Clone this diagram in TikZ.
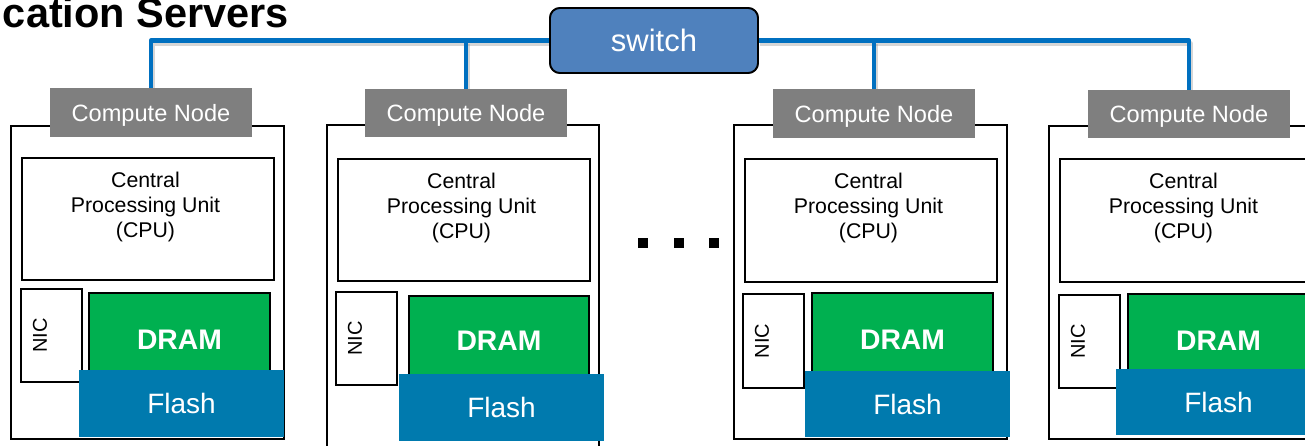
\documentclass[tikz,border=0pt]{standalone}
\usepackage{fontspec}
\setmainfont{Liberation Sans}
\definecolor{netblue}{HTML}{0070C0}
\definecolor{swfill}{HTML}{4F81BD}
\definecolor{cngray}{HTML}{7F7F7F}
\definecolor{dramgreen}{HTML}{00B050}
\definecolor{flashblue}{HTML}{007AAE}
% rectangle node given by its two corners: style, name, x1, y1, x2, y2, text
\newcommand{\boxnode}[7]{%
  \node[#1, minimum width={(#5)-(#3)}, minimum height={(#6)-(#4)}]
    (#2) at ({((#3)+(#5))/2},{((#4)+(#6))/2}) {#7};}
\begin{document}
\begin{tikzpicture}[x=1pt,y=-1pt,
  every node/.style={inner sep=0pt, outer sep=0pt},
  titletext/.style={font=\bfseries\fontsize{41.5}{48}\selectfont},
  netline/.style={draw=netblue, line width=4.5pt, line join=round},
  netshade/.style={draw=black!45, line width=5pt, line join=round, opacity=0.35},
  switchbox/.style={fill=swfill, draw=black, line width=1.8pt, rounded corners=10pt,
    text=white, font=\fontsize{31}{37}\selectfont, text depth=0pt},
  outerbox/.style={draw=black, line width=1.5pt, fill=white},
  cnlabel/.style={fill=cngray, text=white, font=\fontsize{23.6}{28}\selectfont, text depth=0pt},
  cpubox/.style={draw=black, line width=1.8pt, fill=white},
  cputext/.style={font=\fontsize{21.3}{25}\selectfont, align=center},
  nicbox/.style={draw=black, line width=1.6pt, fill=white},
  nictext/.style={font=\fontsize{20}{24}\selectfont, rotate=90},
  drambox/.style={fill=dramgreen, draw=black, line width=1.8pt, text=white,
    font=\bfseries\fontsize{28.3}{34}\selectfont, text depth=0pt},
  flashbox/.style={fill=flashblue, text=white, font=\fontsize{28}{34}\selectfont, text depth=0pt},
  dotsq/.style={fill=black, minimum size=10pt}
]
\useasboundingbox[fill=white] (0,0) rectangle (1305,445);

% title
\node[titletext, anchor=base east] (ttl) at (289,27) {cation Servers};

% switch
\boxnode{switchbox}{sw}{550}{8}{758}{73}{switch}

% compute nodes: outer frame and tab label
\boxnode{outerbox}{out1}{11}{126}{284}{439}{}
\boxnode{outerbox}{out2}{327}{125}{599}{460}{}
\boxnode{outerbox}{out3}{734}{125}{1007}{439}{}
\boxnode{outerbox}{out4}{1049}{126}{1322}{439}{}
\boxnode{cnlabel}{lab1}{50}{88}{252}{137}{Compute Node}
\boxnode{cnlabel}{lab2}{365}{89}{567}{137}{Compute Node}
\boxnode{cnlabel}{lab3}{773}{89}{975}{138}{Compute Node}
\boxnode{cnlabel}{lab4}{1088}{90}{1290}{138}{Compute Node}

% network links with their soft shadow
\begin{scope}[transform canvas={shift={(1.5pt,-3pt)}}]
  \draw[netshade] (sw.west) -| (lab1.north);
  \draw[netshade] (sw.east) -| (lab4.north);
  \draw[netshade] (lab2.north) -- (lab2.north |- sw.west);
  \draw[netshade] (lab3.north) -- (lab3.north |- sw.east);
\end{scope}
\draw[netline] (sw.west) -| (lab1.north);
\draw[netline] (sw.east) -| (lab4.north);
\draw[netline] (lab2.north) -- (lab2.north |- sw.west);
\draw[netline] (lab3.north) -- (lab3.north |- sw.east);
\boxnode{switchbox}{sw}{550}{8}{758}{73}{switch}
\boxnode{cnlabel}{lab1}{50}{88}{252}{137}{Compute Node}
\boxnode{cnlabel}{lab2}{365}{89}{567}{137}{Compute Node}
\boxnode{cnlabel}{lab3}{773}{89}{975}{138}{Compute Node}
\boxnode{cnlabel}{lab4}{1088}{90}{1290}{138}{Compute Node}

% CPUs
\boxnode{cpubox}{cpu1}{22}{158}{274}{280}{}
\boxnode{cpubox}{cpu2}{338}{159}{590}{281}{}
\boxnode{cpubox}{cpu3}{745}{159}{997}{282}{}
\boxnode{cpubox}{cpu4}{1060}{159}{1312}{282}{}
\foreach \i in {1,2,3,4}{
  \node[cputext] (cput\i) at ([xshift=-2.5pt,yshift=-48.5pt]cpu\i.north)
    {Central\\Processing Unit\\(CPU)};
}

% NICs
\boxnode{nicbox}{nic1}{21}{289}{82}{382}{}
\boxnode{nicbox}{nic2}{336}{292}{397}{385}{}
\boxnode{nicbox}{nic3}{743}{294}{804}{388}{}
\boxnode{nicbox}{nic4}{1059}{295}{1120}{388}{}
\foreach \i in {1,2,3,4}{
  \node[nictext] (nict\i) at ([xshift=19pt]nic\i.west) {NIC};
}

% DRAM and Flash
\boxnode{drambox}{dram1}{89}{293}{270}{387}{DRAM}
\boxnode{drambox}{dram2}{409}{296}{589}{385}{DRAM}
\boxnode{drambox}{dram3}{812}{293}{993}{387}{DRAM}
\boxnode{drambox}{dram4}{1128}{294}{1309}{388}{DRAM}
\boxnode{flashbox}{flash1}{79}{370}{284}{437}{Flash}
\boxnode{flashbox}{flash2}{399}{374}{604}{441}{Flash}
\boxnode{flashbox}{flash3}{805}{371}{1010}{437}{Flash}
\boxnode{flashbox}{flash4}{1116}{369}{1321}{435}{Flash}

% ellipsis between the second and third node
\node[dotsq] (dot1) at (643,243) {};
\node[dotsq] (dot2) at (678.5,243) {};
\node[dotsq] (dot3) at (714,243) {};
\end{tikzpicture}
\end{document}
